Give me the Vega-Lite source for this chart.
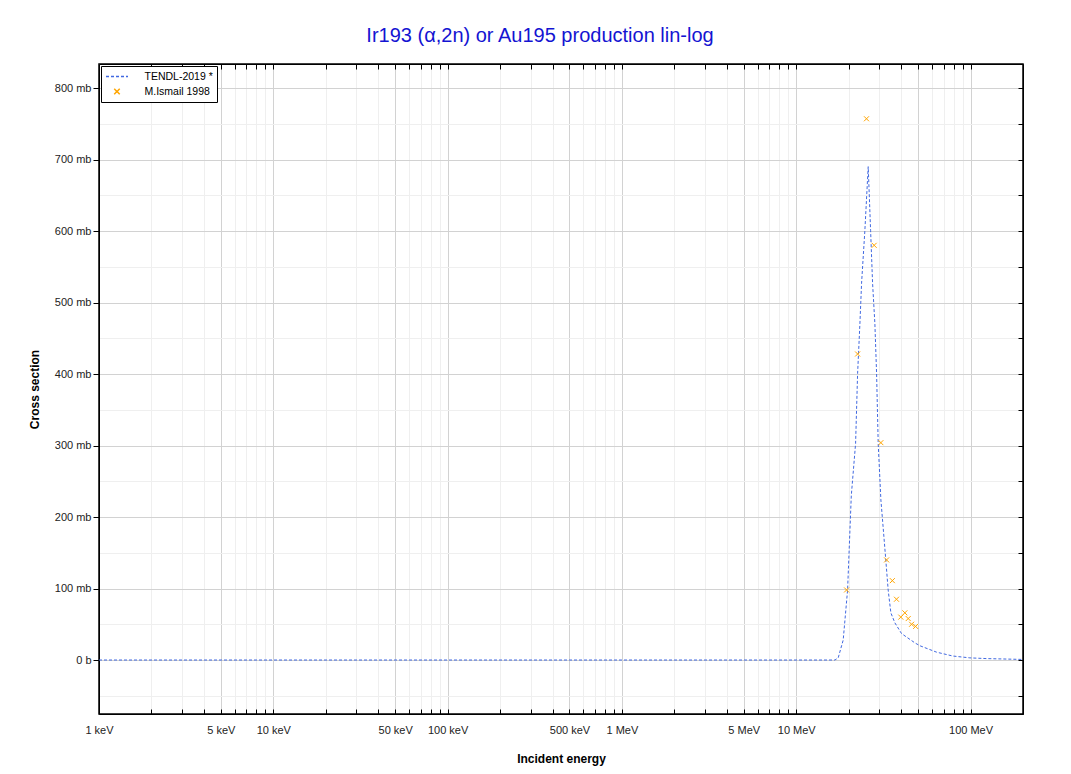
{
  "$schema": "https://vega.github.io/schema/vega-lite/v6.json",
  "width": 924,
  "height": 650,
  "autosize": {"type": "none"},
  "padding": {"left": 99, "top": 64, "right": 48, "bottom": 60},
  "background": "white",
  "title": {
    "text": "Ir193 (α,2n) or Au195 production lin-log",
    "font": "Liberation Sans",
    "fontSize": 20,
    "fontWeight": "normal",
    "color": "#1414d2",
    "baseline": "alphabetic",
    "offset": 2,
    "dx": -21
  },
  "config": {
    "view": {"stroke": "black", "strokeWidth": 1.5},
    "font": "Liberation Sans",
    "axis": {
      "labelFont": "Liberation Sans",
      "labelFontSize": 11,
      "labelColor": "#222222",
      "titleFont": "Liberation Sans",
      "titleFontSize": 12,
      "titleFontWeight": "bold",
      "titleColor": "black",
      "domainColor": "black",
      "tickColor": "black"
    },
    "legend": {
      "orient": "top-left",
      "offset": 2,
      "strokeColor": "black",
      "fillColor": "white",
      "padding": 4,
      "labelFont": "Liberation Sans",
      "labelFontSize": 10.5,
      "labelColor": "black",
      "symbolSize": 121,
      "symbolStrokeWidth": 1.5,
      "symbolOffset": 5.5,
      "rowPadding": 3,
      "labelOffset": 21,
      "title": null
    }
  },
  "data": {
    "values": [
      {"s": "TENDL-2019 *", "e": 0.001, "cs": 0},
      {"s": "TENDL-2019 *", "e": 1, "cs": 0},
      {"s": "TENDL-2019 *", "e": 16.67, "cs": 0},
      {"s": "TENDL-2019 *", "e": 17.41, "cs": 3},
      {"s": "TENDL-2019 *", "e": 18.6, "cs": 28},
      {"s": "TENDL-2019 *", "e": 19.71, "cs": 98},
      {"s": "TENDL-2019 *", "e": 20.7, "cs": 230},
      {"s": "TENDL-2019 *", "e": 21.91, "cs": 303},
      {"s": "TENDL-2019 *", "e": 22.5, "cs": 401},
      {"s": "TENDL-2019 *", "e": 23.19, "cs": 470},
      {"s": "TENDL-2019 *", "e": 23.71, "cs": 527},
      {"s": "TENDL-2019 *", "e": 24.77, "cs": 601},
      {"s": "TENDL-2019 *", "e": 25.88, "cs": 690},
      {"s": "TENDL-2019 *", "e": 26.71, "cs": 601},
      {"s": "TENDL-2019 *", "e": 27.42, "cs": 527},
      {"s": "TENDL-2019 *", "e": 28.27, "cs": 470},
      {"s": "TENDL-2019 *", "e": 28.91, "cs": 401},
      {"s": "TENDL-2019 *", "e": 29.53, "cs": 303},
      {"s": "TENDL-2019 *", "e": 30.6, "cs": 224},
      {"s": "TENDL-2019 *", "e": 32.55, "cs": 144},
      {"s": "TENDL-2019 *", "e": 33.69, "cs": 98},
      {"s": "TENDL-2019 *", "e": 34.91, "cs": 66},
      {"s": "TENDL-2019 *", "e": 36.81, "cs": 52},
      {"s": "TENDL-2019 *", "e": 40.21, "cs": 37},
      {"s": "TENDL-2019 *", "e": 47.93, "cs": 24},
      {"s": "TENDL-2019 *", "e": 51.2, "cs": 20},
      {"s": "TENDL-2019 *", "e": 63.8, "cs": 11},
      {"s": "TENDL-2019 *", "e": 79.1, "cs": 5.6},
      {"s": "TENDL-2019 *", "e": 99.1, "cs": 3},
      {"s": "TENDL-2019 *", "e": 123.5, "cs": 2},
      {"s": "TENDL-2019 *", "e": 200, "cs": 0.8},
      {"s": "M.Ismail 1998", "e": 19.45, "cs": 98},
      {"s": "M.Ismail 1998", "e": 22.5, "cs": 428},
      {"s": "M.Ismail 1998", "e": 25.3, "cs": 757},
      {"s": "M.Ismail 1998", "e": 28.0, "cs": 580},
      {"s": "M.Ismail 1998", "e": 30.6, "cs": 304},
      {"s": "M.Ismail 1998", "e": 33.0, "cs": 140},
      {"s": "M.Ismail 1998", "e": 35.6, "cs": 111},
      {"s": "M.Ismail 1998", "e": 37.6, "cs": 85},
      {"s": "M.Ismail 1998", "e": 39.8, "cs": 60},
      {"s": "M.Ismail 1998", "e": 42.0, "cs": 66},
      {"s": "M.Ismail 1998", "e": 43.9, "cs": 58},
      {"s": "M.Ismail 1998", "e": 45.9, "cs": 50},
      {"s": "M.Ismail 1998", "e": 48.4, "cs": 47}
    ]
  },
  "resolve": {"axis": {"x": "independent", "y": "independent"}},
  "layer": [
    {
      "transform": [{"filter": "datum.s == 'TENDL-2019 *'"}],
      "mark": {"type": "line", "strokeWidth": 1, "clip": true},
      "encoding": {
        "x": {
          "field": "e", "type": "quantitative",
          "scale": {"type": "log", "domain": [0.001, 200], "nice": false},
          "axis": {
            "orient": "bottom",
            "title": "Incident energy",
            "titlePadding": 18,
            "values": [0.001,0.002,0.003,0.004,0.005,0.006,0.007,0.008,0.009,0.01,0.02,0.03,0.04,0.05,0.06,0.07,0.08,0.09,0.1,0.2,0.3,0.4,0.5,0.6,0.7,0.8,0.9,1,2,3,4,5,6,7,8,9,10,20,30,40,50,60,70,80,90,100,200],
            "labelExpr": "indexof([0.001,0.005,0.01,0.05,0.1,0.5,1,5,10,100], datum.value) >= 0 ? (datum.value < 1 ? round(datum.value*1000) + ' keV' : datum.value + ' MeV') : ''",
            "labelOverlap": false,
            "labelFlush": false,
            "tickSize": -5,
            "labelPadding": 15,
            "grid": true,
            "gridWidth": 1,
            "gridColor": {"condition": {"test": "indexof([0.001,0.005,0.01,0.05,0.1,0.5,1,5,10,50,100], datum.value) >= 0", "value": "#d2d2d2"}, "value": "#efefef"}
          }
        },
        "y": {
          "field": "cs", "type": "quantitative",
          "scale": {"domain": [-75.5, 833.6], "nice": false, "zero": false},
          "axis": {
            "orient": "left",
            "title": "Cross section",
            "titlePadding": 13,
            "values": [-50,0,50,100,150,200,250,300,350,400,450,500,550,600,650,700,750,800],
            "labelExpr": "datum.value == 0 ? '0 b' : (datum.value > 0 && datum.value % 100 == 0 ? datum.value + ' mb' : '')",
            "tickSize": 6,
            "labelPadding": 2,
            "tickOpacity": {"condition": {"test": "datum.value % 100 == 0", "value": 1}, "value": 0},
            "grid": true,
            "gridWidth": 1,
            "gridColor": {"condition": {"test": "datum.value % 100 == 0", "value": "#d2d2d2"}, "value": "#efefef"}
          }
        },
        "color": {
          "field": "s", "type": "nominal",
          "scale": {"domain": ["TENDL-2019 *", "M.Ismail 1998"], "range": ["#4169e1", "#ffa500"]}
        },
        "strokeDash": {
          "field": "s", "type": "nominal",
          "scale": {"domain": ["TENDL-2019 *", "M.Ismail 1998"], "range": [[3, 2], [1, 0]]}
        }
      }
    },
    {
      "transform": [{"filter": "datum.s == 'M.Ismail 1998'"}],
      "mark": {"type": "point", "filled": false, "strokeWidth": 1, "size": 100, "opacity": 1},
      "encoding": {
        "x": {
          "field": "e", "type": "quantitative",
          "scale": {"type": "log", "domain": [0.001, 200], "nice": false},
          "axis": {
            "orient": "top",
            "title": null,
            "values": [0.001,0.002,0.003,0.004,0.005,0.006,0.007,0.008,0.009,0.01,0.02,0.03,0.04,0.05,0.06,0.07,0.08,0.09,0.1,0.2,0.3,0.4,0.5,0.6,0.7,0.8,0.9,1,2,3,4,5,6,7,8,9,10,20,30,40,50,60,70,80,90,100,200],
            "labels": false,
            "tickSize": -5,
            "grid": false
          }
        },
        "y": {
          "field": "cs", "type": "quantitative",
          "scale": {"domain": [-75.5, 833.6], "nice": false, "zero": false},
          "axis": {
            "orient": "right",
            "title": null,
            "values": [-50,0,50,100,150,200,250,300,350,400,450,500,550,600,650,700,750,800],
            "labels": false,
            "tickSize": -5,
            "grid": false
          }
        },
        "color": {
          "field": "s", "type": "nominal",
          "scale": {"domain": ["TENDL-2019 *", "M.Ismail 1998"], "range": ["#4169e1", "#ffa500"]}
        },
        "shape": {
          "field": "s", "type": "nominal",
          "scale": {"domain": ["TENDL-2019 *", "M.Ismail 1998"], "range": ["M-2,0L2,0", "M-0.5,-0.5L0.5,0.5M-0.5,0.5L0.5,-0.5"]}
        }
      }
    }
  ]
}
